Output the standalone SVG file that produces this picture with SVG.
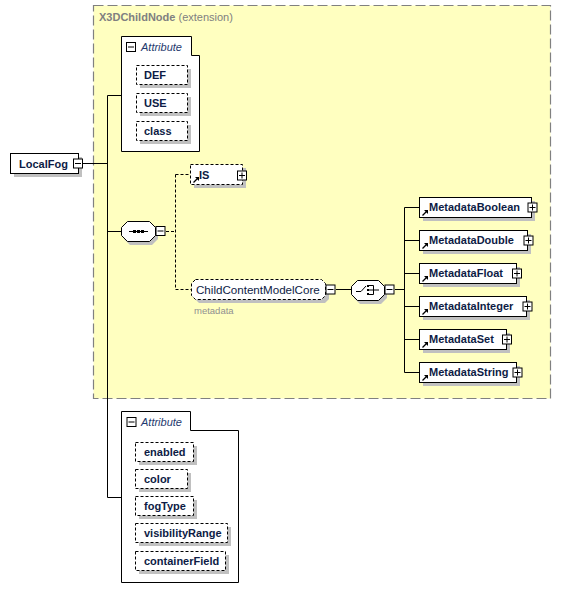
<svg xmlns="http://www.w3.org/2000/svg" xmlns:xlink="http://www.w3.org/1999/xlink" width="561" height="600" viewBox="0 0 561 600">
<style>
.t{font-family:"Liberation Sans",Arial,sans-serif;font-size:11px;font-weight:bold;fill:#0d1b45}
.it{font-family:"Liberation Sans",Arial,sans-serif;font-size:11px;font-style:italic;fill:#1f3a6e}
.sh{fill:#c0c0c0}
.box{fill:#fff;stroke:#000;stroke-width:1}
.dbox{fill:#fff;stroke:#000;stroke-width:1;stroke-dasharray:3,2}
.ln{stroke:#000;stroke-width:1;fill:none}
.dl{stroke:#000;stroke-width:1;fill:none;stroke-dasharray:3,2}
.ic{fill:#fff;stroke:#000;stroke-width:1}
</style>
<defs>
<g id="minus"><rect class="ic" x="0.5" y="0.5" width="9" height="9"/><line class="ln" x1="2" y1="5" x2="8" y2="5"/></g>
<g id="plus"><rect class="ic" x="0.5" y="0.5" width="9" height="9"/><line class="ln" x1="2" y1="5" x2="8" y2="5"/><line class="ln" x1="5" y1="2" x2="5" y2="8"/></g>
<g id="ref"><line x1="0.5" y1="6.5" x2="4.5" y2="2.5" stroke="#000" stroke-width="1.2"/><polygon points="2,1 6,1 6,5" fill="#000"/></g>
</defs>
<rect width="561" height="600" fill="#fff"/>

<g id="extension">
<rect x="93.5" y="5.5" width="457" height="393" fill="#ffffc0" stroke="#808080" stroke-width="1.2" stroke-dasharray="10,4"/>
<text x="99" y="21" font-family="Liberation Sans,Arial,sans-serif" font-size="11" fill="#808080"><tspan font-weight="bold">X3DChildNode</tspan> (extension)</text>
</g>

<g id="connectors">
<line class="ln" x1="82" y1="163.5" x2="107.5" y2="163.5"/>
<line class="ln" x1="107.5" y1="95.5" x2="107.5" y2="497.5"/>
<line class="ln" x1="107.5" y1="95.5" x2="121" y2="95.5"/>
<line class="ln" x1="107.5" y1="231.5" x2="121" y2="231.5"/>
<line class="ln" x1="107.5" y1="497.5" x2="121" y2="497.5"/>
<line class="dl" x1="166" y1="231.5" x2="175.5" y2="231.5"/>
<line class="dl" x1="175.5" y1="174.5" x2="175.5" y2="289.5"/>
<line class="dl" x1="175.5" y1="174.5" x2="190" y2="174.5"/>
<line class="dl" x1="175.5" y1="289.5" x2="191" y2="289.5"/>
<line class="ln" x1="336" y1="289.5" x2="351" y2="289.5"/>
<line class="ln" x1="395" y1="289.5" x2="404.5" y2="289.5"/>
<line class="ln" x1="404.5" y1="207.5" x2="404.5" y2="372.5"/>
<line class="ln" x1="404.5" y1="207.5" x2="419" y2="207.5"/>
<line class="ln" x1="404.5" y1="240.5" x2="419" y2="240.5"/>
<line class="ln" x1="404.5" y1="273.5" x2="419" y2="273.5"/>
<line class="ln" x1="404.5" y1="306.5" x2="419" y2="306.5"/>
<line class="ln" x1="404.5" y1="339.5" x2="419" y2="339.5"/>
<line class="ln" x1="404.5" y1="372.5" x2="419" y2="372.5"/>
</g>

<g id="LocalFog">
<rect class="sh" x="14" y="157" width="68" height="20"/>
<rect class="box" x="10.5" y="153.5" width="68" height="20"/>
<text class="t" x="19" y="168">LocalFog</text>
<use xlink:href="#minus" x="73" y="158.5"/>
</g>

<g id="attrTop">
<path class="box" d="M121.5,36.5 H191.5 V55.5 H199.5 V151.5 H121.5 Z"/>
<use xlink:href="#minus" x="126" y="42"/>
<text class="it" x="141" y="51">Attribute</text>
<g id="attr-DEF"><rect class="sh" x="140" y="69" width="51" height="19"/><rect class="dbox" x="136.5" y="65.5" width="51" height="19"/><text class="t" x="144" y="79">DEF</text></g>
<g id="attr-USE"><rect class="sh" x="140" y="97" width="51" height="19"/><rect class="dbox" x="136.5" y="93.5" width="51" height="19"/><text class="t" x="144" y="107">USE</text></g>
<g id="attr-class"><rect class="sh" x="140" y="125" width="51" height="19"/><rect class="dbox" x="136.5" y="121.5" width="51" height="19"/><text class="t" x="144" y="135">class</text></g>
</g>

<g id="sequence">
<path class="sh" d="M130,225 H152 L158,231 V239 L152,245 H130 L124,239 V231 Z"/>
<path class="box" d="M127.5,221.5 H149.5 L155.5,227.5 V235.5 L149.5,241.5 H127.5 L121.5,235.5 V227.5 Z"/>
<line class="ln" x1="129" y1="231.5" x2="148" y2="231.5"/>
<rect x="133" y="230" width="3" height="3" fill="#000"/>
<rect x="137" y="230" width="3" height="3" fill="#000"/>
<rect x="141" y="230" width="3" height="3" fill="#000"/>
<use xlink:href="#minus" x="155.5" y="226"/>
</g>

<g id="IS">
<rect class="sh" x="194" y="168" width="52" height="20"/>
<rect class="dbox" x="190.5" y="164.5" width="52" height="20"/>
<use xlink:href="#ref" x="193" y="176"/>
<text class="t" x="199" y="179">IS</text>
<use xlink:href="#plus" x="237" y="170.5"/>
</g>

<g id="ChildContentModelCore">
<path class="sh" d="M199,283 H325 L329,287 V299 L325,303 H199 L195,299 V287 Z"/>
<path class="dbox" d="M195.5,279.5 H321.5 L325.5,283.5 V295.5 L321.5,299.5 H195.5 L191.5,295.5 V283.5 Z"/>
<text x="196" y="294" font-family="Liberation Sans,Arial,sans-serif" font-size="11.6" fill="#0d1b45">ChildContentModelCore</text>
<use xlink:href="#minus" x="325.5" y="284.5"/>
<text x="194" y="314" font-family="Liberation Sans,Arial,sans-serif" font-size="9.5" fill="#909090">metadata</text>
</g>

<g id="choice">
<path class="sh" d="M360,284 H381 L387,290 V298 L381,304 H360 L354,298 V290 Z"/>
<path class="box" d="M357.5,280.5 H378.5 L384.5,286.5 V294.5 L378.5,300.5 H357.5 L351.5,294.5 V286.5 Z"/>
<polyline class="ln" points="356,291.5 361,291.5 366,286"/>
<rect x="367" y="285" width="2" height="2" fill="#000"/>
<rect x="367" y="289" width="2" height="2" fill="#000"/>
<rect x="367" y="293" width="2" height="2" fill="#000"/>
<polyline class="ln" points="369,285.5 373.5,285.5 373.5,294.5 369,294.5"/>
<line class="ln" x1="369" y1="290" x2="379" y2="290"/>
<use xlink:href="#minus" x="384.5" y="284.5"/>
</g>

<g id="MetadataBoolean">
<rect class="sh" x="423" y="201" width="112" height="20"/>
<rect class="box" x="419.5" y="197.5" width="112" height="20"/>
<use xlink:href="#ref" x="422" y="209"/>
<text class="t" x="429" y="211">MetadataBoolean</text>
<use xlink:href="#plus" x="527.5" y="202.5"/>
</g>
<g id="MetadataDouble">
<rect class="sh" x="423" y="234" width="108" height="20"/>
<rect class="box" x="419.5" y="230.5" width="108" height="20"/>
<use xlink:href="#ref" x="422" y="242"/>
<text class="t" x="429" y="244">MetadataDouble</text>
<use xlink:href="#plus" x="523.5" y="235.5"/>
</g>
<g id="MetadataFloat">
<rect class="sh" x="423" y="267" width="97" height="20"/>
<rect class="box" x="419.5" y="263.5" width="97" height="20"/>
<use xlink:href="#ref" x="422" y="275"/>
<text class="t" x="429" y="277">MetadataFloat</text>
<use xlink:href="#plus" x="512" y="268.5"/>
</g>
<g id="MetadataInteger">
<rect class="sh" x="423" y="300" width="107" height="20"/>
<rect class="box" x="419.5" y="296.5" width="107" height="20"/>
<use xlink:href="#ref" x="422" y="308"/>
<text class="t" x="429" y="310">MetadataInteger</text>
<use xlink:href="#plus" x="522.5" y="301.5"/>
</g>
<g id="MetadataSet">
<rect class="sh" x="423" y="333" width="87" height="20"/>
<rect class="box" x="419.5" y="329.5" width="87" height="20"/>
<use xlink:href="#ref" x="422" y="341"/>
<text class="t" x="429" y="343">MetadataSet</text>
<use xlink:href="#plus" x="502" y="334.5"/>
</g>
<g id="MetadataString">
<rect class="sh" x="423" y="366" width="97" height="20"/>
<rect class="box" x="419.5" y="362.5" width="97" height="20"/>
<use xlink:href="#ref" x="422" y="374"/>
<text class="t" x="429" y="376">MetadataString</text>
<use xlink:href="#plus" x="512.5" y="367.5"/>
</g>

<g id="attrBottom">
<path class="box" d="M121.5,411.5 H190.5 V430.5 H238.5 V582.5 H121.5 Z"/>
<use xlink:href="#minus" x="126.5" y="417"/>
<text class="it" x="141" y="426">Attribute</text>
<g id="attr-enabled"><rect class="sh" x="139" y="446" width="58" height="19"/><rect class="dbox" x="135.5" y="442.5" width="58" height="19"/><text class="t" x="144" y="456">enabled</text></g>
<g id="attr-color"><rect class="sh" x="139" y="473" width="52" height="19"/><rect class="dbox" x="135.5" y="469.5" width="52" height="19"/><text class="t" x="144" y="483">color</text></g>
<g id="attr-fogType"><rect class="sh" x="139" y="500" width="58" height="19"/><rect class="dbox" x="135.5" y="496.5" width="58" height="19"/><text class="t" x="144" y="510">fogType</text></g>
<g id="attr-visibilityRange"><rect class="sh" x="139" y="527" width="92" height="19"/><rect class="dbox" x="135.5" y="523.5" width="92" height="19"/><text class="t" x="144" y="537">visibilityRange</text></g>
<g id="attr-containerField"><rect class="sh" x="139" y="555" width="90" height="19"/><rect class="dbox" x="135.5" y="551.5" width="90" height="19"/><text class="t" x="144" y="565">containerField</text></g>
</g>
</svg>
